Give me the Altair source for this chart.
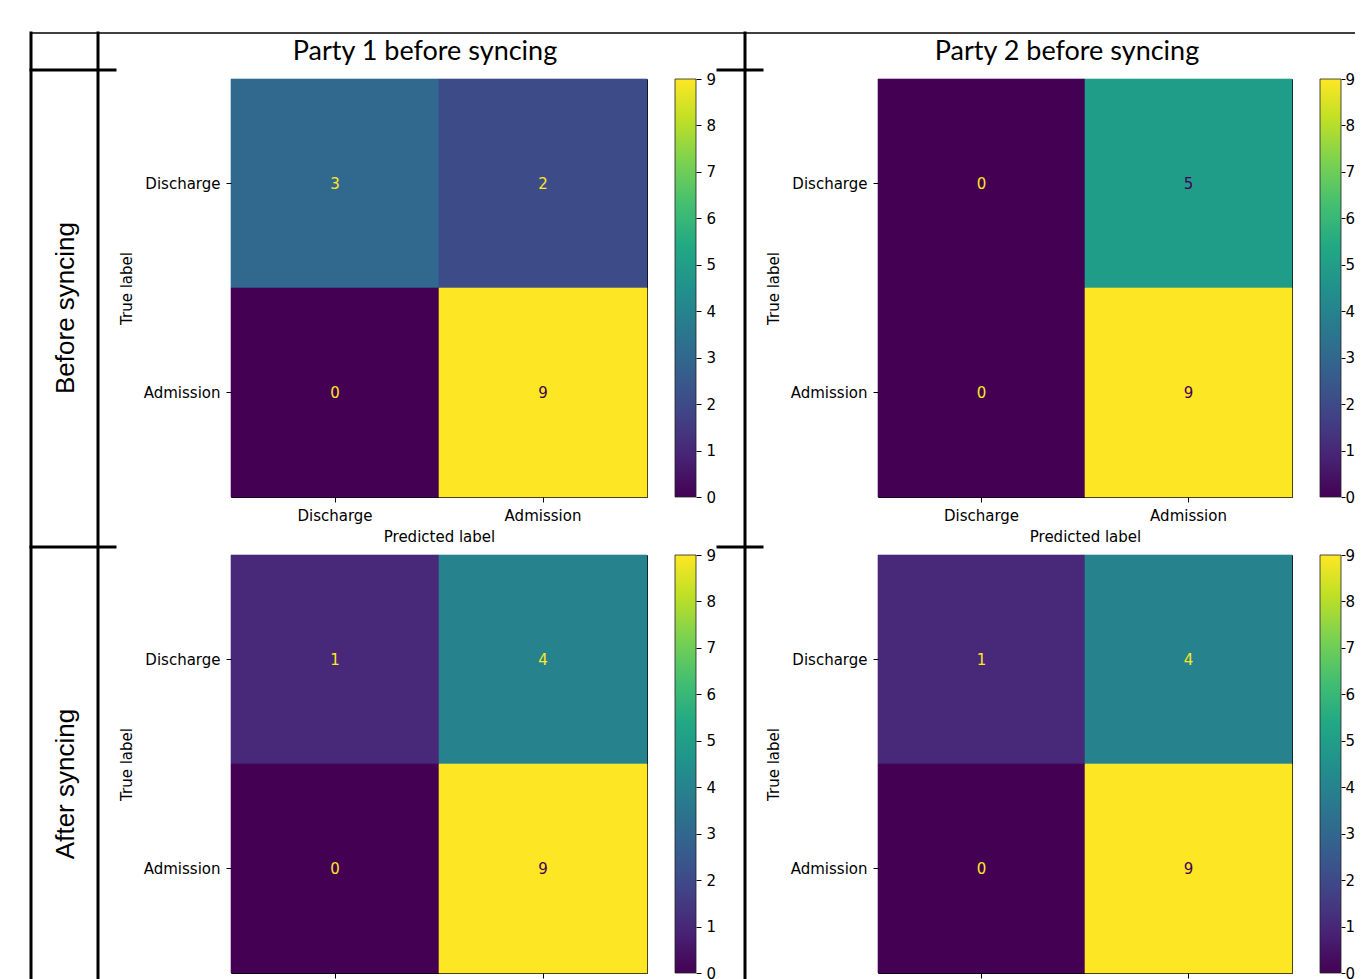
import altair as alt
import pandas as pd

# ---------------- data ----------------
LABELS = ["Discharge", "Admission"]
COL_HEADERS = ["Party 1 before syncing", "Party 2 before syncing"]
ROW_HEADERS = ["Before syncing", "After syncing"]
# confusion matrices: rows = true label, cols = predicted label
P1_BEFORE = [[3, 2], [0, 9]]
P2_BEFORE = [[0, 5], [0, 9]]
P1_AFTER = [[1, 4], [0, 9]]
P2_AFTER = [[1, 4], [0, 9]]
CBAR_RANGE = [0, 9]
CBAR_TICKS = [0, 1, 2, 3, 4, 5, 6, 7, 8, 9]
TEXT_THRESHOLD = 4.5

# ---------------- style ----------------
H = 418
FONT = "DejaVu Sans"
HEAD_FONT = "Lato"
VIRIDIS = ["#440154", "#482475", "#414487", "#355f8d", "#2a788e", "#21918c",
           "#22a884", "#44bf70", "#7ad151", "#bddf26", "#fde725"]
GRAD = alt.LinearGradient(
    gradient="linear",
    stops=[alt.GradientStop(offset=i / (len(VIRIDIS) - 1), color=c) for i, c in enumerate(VIRIDIS)],
    x1=0, x2=0, y1=1, y2=0,
)
DUMMY = pd.DataFrame({"d": [0]})


def seg(x1, y1, x2, y2, w=3):
    return alt.Chart(DUMMY).mark_rule(color="black", strokeWidth=w, strokeCap="square").encode(
        x=alt.value(x1), y=alt.value(y1), x2=alt.value(x2), y2=alt.value(y2))


def label(text, x, y, size, angle=0, font=HEAD_FONT):
    return alt.Chart(DUMMY).mark_text(font=font, fontSize=size, angle=angle, align="center",
                                      baseline="middle", color="black").encode(
        x=alt.value(x), y=alt.value(y), text=alt.value(text))


def panel(matrix, extras, width, cb_pad, cb_tick):
    rows = []
    for i, t in enumerate(LABELS):
        for j, p in enumerate(LABELS):
            rows.append({"true": t, "pred": p, "value": matrix[i][j]})
    df = pd.DataFrame(rows)
    cscale = alt.Scale(scheme="viridis", domain=CBAR_RANGE)
    base = alt.Chart(df).encode(
        x=alt.X("pred:N", sort=LABELS, title="Predicted label",
                axis=alt.Axis(labelAngle=0, orient="bottom", labelPadding=6, titlePadding=6)),
        y=alt.Y("true:N", sort=LABELS, title="True label",
                axis=alt.Axis(orient="left", labelPadding=6, titlePadding=9)),
    )
    heat = base.mark_rect(strokeWidth=0.6).encode(
        color=alt.Color("value:Q", scale=cscale, legend=None),
        stroke=alt.Stroke("value:Q", scale=cscale, legend=None))
    txt = base.mark_text(font=FONT, fontSize=15).encode(
        text="value:Q",
        color=alt.condition(alt.datum.value > TEXT_THRESHOLD, alt.value("#440154"), alt.value("#fde725")))
    cdf = pd.DataFrame({"lo": [CBAR_RANGE[0]], "hi": [CBAR_RANGE[1]]})
    cbar = alt.Chart(cdf).mark_rect(fill=GRAD, stroke="#222222", strokeWidth=0.8).encode(
        x=alt.value(width + 28), x2=alt.value(width + 49),
        y=alt.Y("lo:Q", scale=alt.Scale(domain=CBAR_RANGE, nice=False, zero=False),
                axis=alt.Axis(orient="right", offset=49, values=CBAR_TICKS, domain=False, grid=False,
                              tickSize=cb_tick, labelPadding=cb_pad, title=None)),
        y2="hi:Q",
    )
    return alt.layer(alt.layer(heat, txt), cbar, *extras).resolve_scale(y="independent").properties(
        width=width, height=H)


# table frame + headers (offsets relative to each panel's plot area)
p1_extras = [
    seg(-200, -46, 1125, -46, w=1.5),
    seg(-200, -46, -200, 901),
    seg(-133, -46, -133, 901),
    seg(514, -46, 514, 901),
    seg(-200, -9, -116, -9),
    seg(487, -9, 531, -9),
    seg(-200, 468, -116, 468),
    seg(487, 468, 531, 468),
    label(COL_HEADERS[0], 194, -27, 27),
    label(ROW_HEADERS[0], -165, 229, 26, angle=270, font="Liberation Sans"),
]
p2_extras = [label(COL_HEADERS[1], 189, -27, 27)]
p3_extras = [label(ROW_HEADERS[1], -165, 229, 26, angle=270, font="Liberation Sans")]

chart = alt.concat(
    panel(P1_BEFORE, p1_extras, 416, 5, 5),
    panel(P2_BEFORE, p2_extras, 414, 0, 4),
    panel(P1_AFTER, p3_extras, 416, 5, 5),
    panel(P2_AFTER, [], 414, 0, 4),
    columns=2,
    spacing={"row": 58, "column": 231},
    bounds="flush",
).properties(
    padding={"left": 20, "top": 22, "right": -3, "bottom": 0}
).configure_view(
    stroke="black", strokeWidth=1
).configure_axis(
    labelFont=FONT, labelFontSize=15, titleFont=FONT, titleFontSize=15, titleFontWeight="normal",
    labelColor="black", titleColor="black", tickColor="black", domain=False, grid=False, tickSize=5,
)

chart.save("out.html", embed_options={"renderer": "svg", "actions": False})
